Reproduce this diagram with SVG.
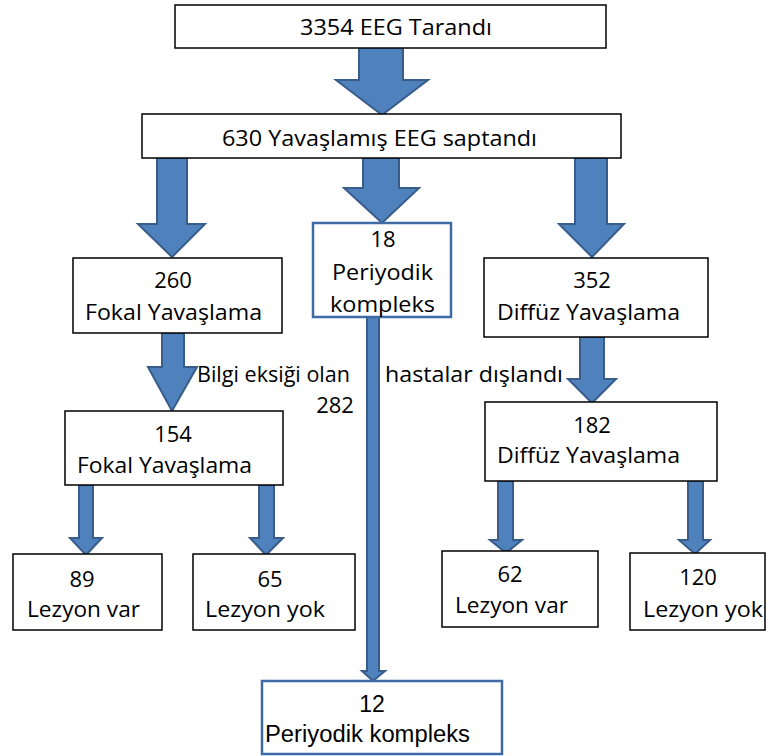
<svg xmlns="http://www.w3.org/2000/svg" width="766" height="756" viewBox="0 0 766 756">
<style>
.box{fill:#fff;stroke:#000;stroke-width:1.5}
.bbox{fill:#fff;stroke:#3E6BA6;stroke-width:2.5}
.arr{fill:#4F81BD;stroke:#385D8A;stroke-width:2;stroke-linejoin:miter}
.t{font-family:"Open Sans","Noto Sans",sans-serif;font-size:22px;fill:#000}
.a{font-family:"Liberation Sans",Arial,sans-serif;font-size:23px;fill:#000}
.c{text-anchor:middle}
</style>
<rect width="766" height="756" fill="#fff"/>
<g id="connectors">
<path class="arr" d="M359,47 H403 V80 H428 L382,115 L336,80 H359 Z"/>
<path class="arr" d="M157,158 H187 V224 H205 L172,257 L138,224 H157 Z"/>
<path class="arr" d="M363,158 H399 V188 H419 L382,223 L344,188 H363 Z"/>
<path class="arr" d="M575,158 H607 V224 H624 L592,257 L559,224 H575 Z"/>
<path class="arr" d="M162,333 H184 V367 H197 L172,411 L148,367 H162 Z"/>
<path class="arr" d="M580,337 H604 V379 H616 L592,403 L568,379 H580 Z"/>
<path class="arr" d="M79,485 H93 V538 H102 L86,555 L70,538 H79 Z"/>
<path class="arr" d="M259,485 H274 V538 H283 L266,555 L250,538 H259 Z"/>
<path class="arr" d="M498,481 H513 V540 H522 L506,553 L490,540 H498 Z"/>
<path class="arr" d="M688,481 H703 V540 H710 L695,554 L679,540 H688 Z"/>
</g>
<g id="n-label-excl">
<text class="t" x="197" y="382" textLength="153" lengthAdjust="spacingAndGlyphs">Bilgi eksiği olan</text>
<text class="t" x="385" y="382" textLength="178" lengthAdjust="spacingAndGlyphs">hastalar dışlandı</text>
<text class="t c" x="335" y="413">282</text>
</g>
<g id="connector-thin">
<path class="arr" d="M367,317 H379 V671 H385 L373,681 L362,671 H367 Z"/>
</g>
<g id="n-3354">
<rect class="box" x="175" y="5" width="431" height="43"/>
<text class="t" x="300" y="35" textLength="192" lengthAdjust="spacingAndGlyphs">3354 EEG Tarandı</text>
</g>
<g id="n-630">
<rect class="box" x="142" y="114" width="479" height="44"/>
<text class="t" x="222" y="146" textLength="315" lengthAdjust="spacingAndGlyphs">630 Yavaşlamış EEG saptandı</text>
</g>
<g id="n-260">
<rect class="box" x="73" y="258" width="209" height="75"/>
<text class="t c" x="173" y="288">260</text>
<text class="t" x="85" y="320" textLength="177" lengthAdjust="spacingAndGlyphs">Fokal Yavaşlama</text>
</g>
<g id="n-18">
<rect class="bbox" x="313" y="223" width="138" height="94"/>
<text class="t c" x="383" y="247">18</text>
<text class="t" x="332" y="280" textLength="101" lengthAdjust="spacingAndGlyphs">Periyodik</text>
<text class="t" x="330" y="312" textLength="105" lengthAdjust="spacingAndGlyphs">kompleks</text>
</g>
<g id="n-352">
<rect class="box" x="484" y="258" width="224" height="79"/>
<text class="t c" x="592" y="288">352</text>
<text class="t" x="497" y="320" textLength="183" lengthAdjust="spacingAndGlyphs">Diffüz Yavaşlama</text>
</g>
<g id="n-154">
<rect class="box" x="65" y="411" width="218" height="74"/>
<text class="t c" x="173" y="442">154</text>
<text class="t" x="77" y="473" textLength="175" lengthAdjust="spacingAndGlyphs">Fokal Yavaşlama</text>
</g>
<g id="n-182">
<rect class="box" x="485" y="402" width="232" height="79"/>
<text class="t c" x="592" y="433">182</text>
<text class="t" x="497" y="463" textLength="183" lengthAdjust="spacingAndGlyphs">Diffüz Yavaşlama</text>
</g>
<g id="n-89">
<rect class="box" x="13" y="554" width="149" height="76"/>
<text class="t c" x="82" y="587">89</text>
<text class="t" x="27" y="617" textLength="113" lengthAdjust="spacingAndGlyphs">Lezyon var</text>
</g>
<g id="n-65">
<rect class="box" x="193" y="554" width="162" height="76"/>
<text class="t c" x="270" y="587">65</text>
<text class="t" x="205" y="617" textLength="120" lengthAdjust="spacingAndGlyphs">Lezyon yok</text>
</g>
<g id="n-62">
<rect class="box" x="442" y="551" width="156" height="76"/>
<text class="t c" x="510" y="582">62</text>
<text class="t" x="455" y="613" textLength="113" lengthAdjust="spacingAndGlyphs">Lezyon var</text>
</g>
<g id="n-120">
<rect class="box" x="630" y="553" width="135" height="77"/>
<text class="t c" x="698" y="585">120</text>
<text class="t" x="643" y="617" textLength="120" lengthAdjust="spacingAndGlyphs">Lezyon yok</text>
</g>
<g id="n-12">
<rect class="bbox" x="262" y="681" width="240" height="73"/>
<text class="a c" x="372" y="712">12</text>
<text class="a" x="265" y="742" textLength="205" lengthAdjust="spacingAndGlyphs">Periyodik kompleks</text>
</g>
</svg>
